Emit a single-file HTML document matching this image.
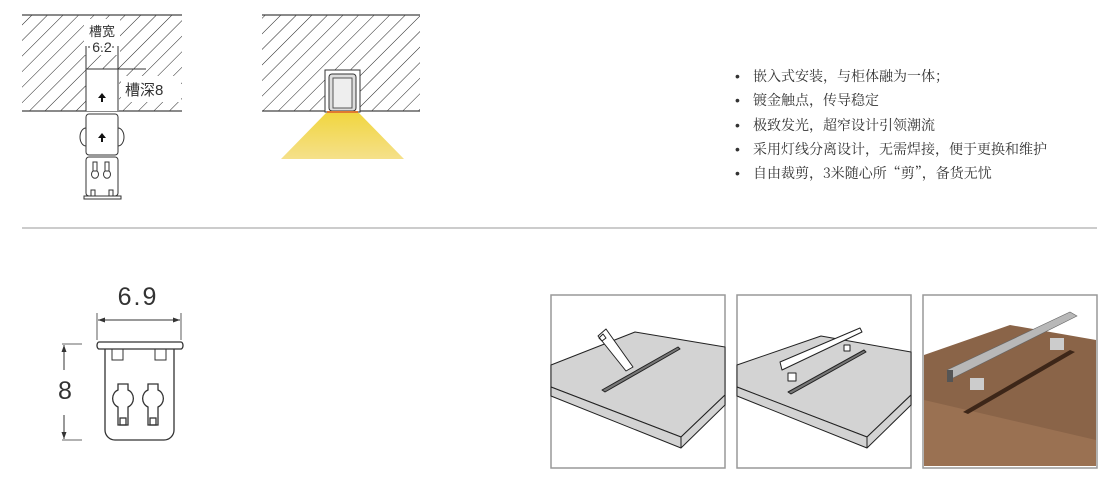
<!DOCTYPE html>
<html><head><meta charset="utf-8"><style>
body{margin:0;background:#fff;width:1119px;height:500px;overflow:hidden;position:relative;font-family:"Liberation Sans","Noto Sans CJK SC",sans-serif}
.t{position:absolute;left:735px;top:64px;font-family:"Noto Serif CJK SC","Liberation Serif",serif;font-size:14px;color:#333;line-height:24.3px}
.t div:before{content:"•";display:inline-block;width:18px;font-family:"Liberation Sans",sans-serif}
</style></head><body>
<svg width="1119" height="500" style="position:absolute;left:0;top:0">
<defs>
<pattern id="h" width="11" height="11" patternUnits="userSpaceOnUse" patternTransform="rotate(45)">
<line x1="0" y1="0" x2="0" y2="11" stroke="#222" stroke-width="1"/>
</pattern>
<linearGradient id="y" x1="0" y1="0" x2="0" y2="1"><stop offset="0" stop-color="#f1d640"/><stop offset="1" stop-color="#f5e08a"/></linearGradient>
</defs>
<!-- block 1 -->
<rect x="22" y="15" width="160" height="96" fill="url(#h)"/>
<line x1="22" y1="15" x2="182" y2="15" stroke="#444" stroke-width="1.2"/>
<line x1="22" y1="111" x2="182" y2="111" stroke="#444" stroke-width="1.2"/>
<rect x="86" y="69" width="33" height="42" fill="#fff"/>
<rect x="84" y="19" width="36" height="36" fill="#fff"/>
<rect x="121" y="76" width="60" height="26" fill="#fff"/>
<line x1="86" y1="69" x2="86" y2="111" stroke="#333"/><line x1="118" y1="46" x2="118" y2="111" stroke="#333"/>
<line x1="86" y1="46" x2="86" y2="69" stroke="#333"/>
<line x1="86" y1="69" x2="146" y2="69" stroke="#333"/>
<line x1="88" y1="47" x2="116" y2="47" stroke="#333" stroke-dasharray="2 2"/>
<text x="102" y="36" font-size="13" text-anchor="middle" fill="#333" font-family="Liberation Sans,Noto Sans CJK SC,sans-serif">槽宽</text>
<text x="102" y="52" font-size="14" text-anchor="middle" fill="#333" style="paint-order:stroke" stroke="#fff" stroke-width="3">6.2</text>
<text x="125" y="95" font-size="15" fill="#333">槽深8</text>
<path d="M102 93 l-4 5 h3 v4 h2 v-4 h3z" fill="#111"/>
<!-- clip piece -->
<rect x="86" y="114" width="32" height="41" rx="3" fill="#fff" stroke="#333"/>
<path d="M86 128 a6 9 0 0 0 0 18 M118 128 a6 9 0 0 1 0 18" fill="none" stroke="#333"/>
<path d="M102 133 l-4 5 h3 v4 h2 v-4 h3z" fill="#111"/>
<rect x="86" y="157" width="32" height="39" rx="3" fill="#fff" stroke="#333"/>
<rect x="84" y="196" width="37" height="3" fill="#fff" stroke="#333"/>
<rect x="93" y="162" width="4" height="9" fill="none" stroke="#333"/><rect x="105" y="162" width="4" height="9" fill="none" stroke="#333"/>
<path d="M93 171 a3.5 4 0 1 0 4 0z M105 171 a3.5 4 0 1 0 4 0z" fill="none" stroke="#333"/>
<rect x="91" y="190" width="4" height="6" fill="none" stroke="#333"/><rect x="109" y="190" width="4" height="6" fill="none" stroke="#333"/>
<!-- block 2 -->
<rect x="262" y="15" width="158" height="96" fill="url(#h)"/>
<line x1="262" y1="15" x2="420" y2="15" stroke="#444" stroke-width="1.2"/>
<line x1="262" y1="111" x2="420" y2="111" stroke="#444" stroke-width="1.2"/>
<path d="M281 159 L326 113 L359 113 L404 159Z" fill="url(#y)"/>
<rect x="325" y="70" width="35" height="42" fill="#fff" stroke="#333"/>
<rect x="329" y="74" width="27" height="37" rx="3" fill="#ddd" stroke="#333"/>
<rect x="333" y="78" width="19" height="30" fill="#eee" stroke="#555"/>
<line x1="327" y1="112" x2="358" y2="112" stroke="#e07a30" stroke-width="2"/>
<!-- divider -->
<line x1="22" y1="228" x2="1097" y2="228" stroke="#999" stroke-width="1"/>
<!-- bottom profile -->
<text x="138" y="305" font-size="25" text-anchor="middle" fill="#333" letter-spacing="2">6.9</text>
<line x1="97" y1="313" x2="97" y2="340" stroke="#333" stroke-width="0.8"/>
<line x1="181" y1="313" x2="181" y2="340" stroke="#333" stroke-width="0.8"/>
<line x1="98" y1="320" x2="180" y2="320" stroke="#333"/>
<path d="M98 320 l7 -2.5 v5z M180 320 l-7 -2.5 v5z" fill="#333"/>
<line x1="62" y1="344" x2="82" y2="344" stroke="#333" stroke-width="0.8"/>
<line x1="62" y1="440" x2="82" y2="440" stroke="#333" stroke-width="0.8"/>
<line x1="64" y1="345" x2="64" y2="370" stroke="#333"/><line x1="64" y1="415" x2="64" y2="439" stroke="#333"/>
<path d="M64 345 l-2.5 7 h5z M64 439 l-2.5 -7 h5z" fill="#333"/>
<text x="65" y="399" font-size="25" text-anchor="middle" fill="#333">8</text>
<path d="M105 349 V430 a10 10 0 0 0 10 10 H164 a10 10 0 0 0 10 -10 V349" fill="#fff" stroke="#333" stroke-width="1.3"/>
<path d="M99 342 H181 a2 3.5 0 0 1 0 7 H99 a2 3.5 0 0 1 0 -7z" fill="#fff" stroke="#333" stroke-width="1.3"/>
<rect x="112" y="349" width="11" height="11" fill="none" stroke="#333"/><rect x="155" y="349" width="11" height="11" fill="none" stroke="#333"/>
<g fill="none" stroke="#333" stroke-width="1.3">
<path d="M118 384 h10 v6 a8 9 0 0 1 0 17 v18 h-10 v-18 a8 9 0 0 1 0 -17z"/>
<path d="M148 384 h10 v6 a8 9 0 0 1 0 17 v18 h-10 v-18 a8 9 0 0 1 0 -17z"/>
<rect x="120" y="418" width="6" height="7"/><rect x="150" y="418" width="6" height="7"/>
</g>
<!-- photos -->
<g stroke="#999" stroke-width="1.5" fill="#fff">
<rect x="551" y="295" width="174" height="173"/>
<rect x="737" y="295" width="174" height="173"/>
<rect x="923" y="295" width="174" height="173"/>
</g>
<g stroke="#222" stroke-width="1" stroke-linejoin="round">
<path d="M551 365 L635 332 L725 347 V395 L681 437 L551 387Z" fill="#d3d3d3"/>
<path d="M551 387 L681 437 L725 395 V405 L681 448 L551 396Z" fill="#d3d3d3"/>
<path d="M681 437 V448"/>
<path d="M602 390 L678 347 L680 349 L605 392Z" fill="#777"/>
<path d="M598 336 L606 329 L633 367 L626 371Z" fill="#fff"/>
<path d="M599 338 l4 -4 l3 4 l-4 3z" fill="none"/>
<path d="M737 365 L821 336 L911 352 V395 L867 437 L737 387Z" fill="#d3d3d3"/>
<path d="M737 387 L867 437 L911 395 V405 L867 448 L737 396Z" fill="#d3d3d3"/>
<path d="M867 437 V448"/>
<path d="M788 392 L864 350 L866 352 L791 394Z" fill="#777"/>
<path d="M780 362 L860 328 L862 332 L782 370Z" fill="#fff"/>
<rect x="788" y="373" width="8" height="8" fill="#fff"/><rect x="844" y="345" width="6" height="6" fill="#fff"/>
</g>
<path d="M924 355 L1010 325 L1096 340 V466 H924Z" fill="#8a6448"/>
<path d="M924 400 V466 H1096 V440 Z" fill="#a5795a" opacity="0.6"/>
<path d="M963 412 L1070 350 L1075 352 L968 414Z" fill="#3d2618"/>
<path d="M947 370 L1070 312 L1077 316 L953 378Z" fill="#b8b8b8" stroke="#666" stroke-width="0.6"/>
<rect x="947" y="370" width="6" height="12" fill="#555"/>
<rect x="970" y="378" width="14" height="12" fill="#ccc"/><rect x="1050" y="338" width="14" height="12" fill="#ccc"/>
</svg>
<div class="t">
<div>嵌入式安装，与柜体融为一体；</div>
<div>镀金触点，传导稳定</div>
<div>极致发光，超窄设计引领潮流</div>
<div>采用灯线分离设计，无需焊接，便于更换和维护</div>
<div>自由裁剪，3米随心所“剪”，备货无忧</div>
</div>
</body></html>
